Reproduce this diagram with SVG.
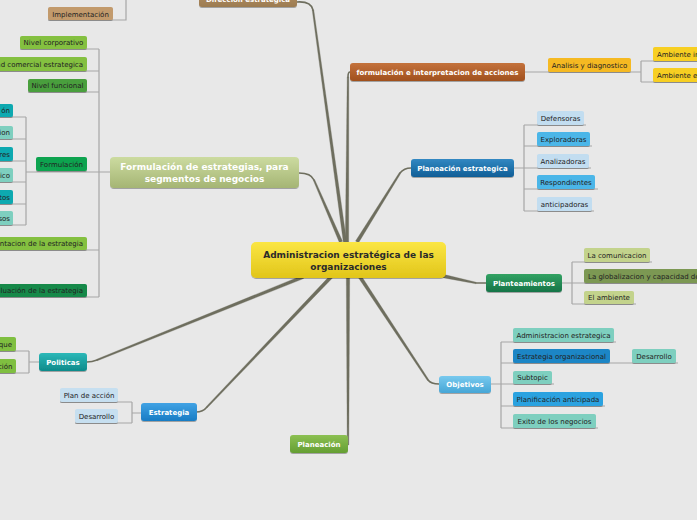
<svg xmlns="http://www.w3.org/2000/svg" width="697" height="520" viewBox="0 0 697 520">
<defs>
<linearGradient id="gY" x1="0" y1="0" x2="0" y2="1"><stop offset="0" stop-color="#fbe643"/><stop offset="1" stop-color="#e1c51a"/></linearGradient>
<linearGradient id="gBr" x1="0" y1="0" x2="0" y2="1"><stop offset="0" stop-color="#b6946a"/><stop offset="1" stop-color="#9c7b50"/></linearGradient>
<linearGradient id="gOr" x1="0" y1="0" x2="0" y2="1"><stop offset="0" stop-color="#c4723c"/><stop offset="1" stop-color="#a0501e"/></linearGradient>
<linearGradient id="gBd" x1="0" y1="0" x2="0" y2="1"><stop offset="0" stop-color="#3288c2"/><stop offset="1" stop-color="#0f5e96"/></linearGradient>
<linearGradient id="gGd" x1="0" y1="0" x2="0" y2="1"><stop offset="0" stop-color="#32a263"/><stop offset="1" stop-color="#167447"/></linearGradient>
<linearGradient id="gBl" x1="0" y1="0" x2="0" y2="1"><stop offset="0" stop-color="#78c9ee"/><stop offset="1" stop-color="#46a6d6"/></linearGradient>
<linearGradient id="gGl" x1="0" y1="0" x2="0" y2="1"><stop offset="0" stop-color="#8cc052"/><stop offset="1" stop-color="#649e32"/></linearGradient>
<linearGradient id="gBm" x1="0" y1="0" x2="0" y2="1"><stop offset="0" stop-color="#40a2e4"/><stop offset="1" stop-color="#187cc4"/></linearGradient>
<linearGradient id="gT" x1="0" y1="0" x2="0" y2="1"><stop offset="0" stop-color="#2cb8b8"/><stop offset="1" stop-color="#0d8a8a"/></linearGradient>
<linearGradient id="gOl" x1="0" y1="0" x2="0" y2="1"><stop offset="0" stop-color="#ccdba0"/><stop offset="1" stop-color="#a5b574"/></linearGradient>
<filter id="sh" x="-10%" y="-20%" width="120%" height="160%"><feDropShadow dx="0" dy="1" stdDeviation="0.7" flood-color="#000" flood-opacity="0.3"/></filter>
</defs>
<style>
.t{font-family:"DejaVu Sans",Verdana,sans-serif;font-size:7px;fill:#222}
.b{font-family:"DejaVu Sans",Verdana,sans-serif;font-size:7px;font-weight:bold;fill:#fff}
.c{font-family:"DejaVu Sans",Verdana,sans-serif;font-size:9px;font-weight:bold}
.mid{text-anchor:middle}
.end{text-anchor:end}
.m{fill:none;stroke:#6e6e5e;stroke-width:1.6;stroke-linecap:round}
.tp{fill:#6e6e5e;stroke:#6e6e5e;stroke-width:0.3}
.s{fill:none;stroke:#a6a6a6;stroke-width:1.2}
.n rect{filter:url(#sh)}
</style>
<rect width="697" height="520" fill="#e8e8e8"/>
<g id="connectors">
<path class="m" d="M297,2 Q311,1 313,10"/>
<polygon class="tp" points="346.68,241.77 313.79,9.89 312.21,10.11 343.32,242.23"/>
<path class="m" d="M350,72 Q348,72 348,77"/>
<polygon class="tp" points="348.7,242 348.8,77 347.2,77 345.3,242"/>
<path class="m" d="M411,168 Q404,168 400,173"/>
<polygon class="tp" points="358.44,242.9 400.68,173.42 399.32,172.58 355.56,241.1"/>
<path class="m" d="M486,283 L476,283"/>
<polygon class="tp" points="442.65,277.66 475.83,283.78 476.17,282.22 443.35,274.34"/>
<path class="m" d="M439,384 Q431,384 428,380"/>
<polygon class="tp" points="358.58,277.94 427.33,380.44 428.67,379.56 361.42,276.06"/>
<polygon class="tp" points="349.7,277 348.8,445 347.2,445 346.3,277"/>
<path class="m" d="M196,412 Q203,412 207,407"/>
<polygon class="tp" points="329.77,275.83 206.42,406.45 207.58,407.55 332.23,278.17"/>
<path class="m" d="M87,362 Q92,362 97,360"/>
<polygon class="tp" points="302.36,275.42 96.7,359.26 97.3,360.74 303.64,278.58"/>
<path class="m" d="M299,173 Q311,173 314,180"/>
<polygon class="tp" points="342.56,241.32 314.73,179.68 313.27,180.32 339.44,242.68"/>
<path class="s" d="M126,0 V20 H48"/>
<path class="s" d="M110,172 H26 M99,49 V297 M20,49 H99 M0,71 H99 M28,92 H99 M0,250 H99 M0,297 H99"/>
<path class="s" d="M26,117 V225 M0,117 H26 M0,139 H26 M0,161 H26 M0,182 H26 M0,204 H26 M0,225 H26"/>
<path class="s" d="M525,72 H641 M641,61 V82 M641,61 H697 M641,82 H697"/>
<path class="s" d="M514,168 H524 M524,125 V211 M524,125 H586 M524,146 H592 M524,168 H591 M524,189 H598 M524,211 H594"/>
<path class="s" d="M562,283 H572 M572,262 V304 M572,262 H652 M572,283 H697 M572,304 H636"/>
<path class="s" d="M491,384 H501 M501,342 V428 M501,342 H616 M501,363 H678 M501,384 H554 M501,406 H605 M501,428 H598"/>
<path class="s" d="M141,413 H132 M132,402 V423 M132,402 H60 M132,423 H75"/>
<path class="s" d="M39,362 H29 M29,351 V373 M29,351 H0 M29,373 H0"/>
</g>
<g id="central" class="n"><rect x="251" y="242" width="195" height="36" rx="5" fill="url(#gY)"/>
<text class="c mid" x="348.5" y="258" fill="#2a2a2a">Administracion estratégica de las</text>
<text class="c mid" x="348.5" y="270" fill="#2a2a2a">organizaciones</text></g>
<g id="direccion" class="n"><rect x="199" y="-12" width="98" height="19" rx="3" fill="url(#gBr)"/><text class="b mid" x="248" y="2">Dirección estrategica</text></g>
<g id="implementacion" class="n"><rect x="48" y="7" width="65" height="13" rx="2" fill="#c29a6c"/><text class="t mid" x="80.5" y="16.5">Implementación</text></g>
<g id="formulacion-interp" class="n"><rect x="350" y="63" width="175" height="18" rx="3" fill="url(#gOr)"/><text class="b mid" x="437.5" y="74.5">formulación e interpretacion de acciones</text></g>
<g id="analisis" class="n"><rect x="548" y="58" width="83" height="14" rx="2" fill="#f5b920"/><text class="t mid" x="589.5" y="67.5">Analisis y diagnostico</text></g>
<g id="amb-int" class="n"><rect x="653" y="47" width="60" height="14" rx="2" fill="#f7cf22"/><text class="t" x="657" y="56.5">Ambiente interno</text></g>
<g id="amb-ext" class="n"><rect x="653" y="68" width="60" height="14" rx="2" fill="#f7cf22"/><text class="t" x="657" y="77.5">Ambiente externo</text></g>
<g id="planeacion-estr" class="n"><rect x="411" y="159" width="103" height="18" rx="3" fill="url(#gBd)"/><text class="b mid" x="462.5" y="170.5">Planeación estrategica</text></g>
<g id="defensoras" class="n"><rect x="537" y="111" width="47" height="14" rx="2" fill="#c2ddf0"/><text class="t mid" x="560.5" y="120.5">Defensoras</text></g>
<g id="exploradoras" class="n"><rect x="537" y="132" width="53" height="14" rx="2" fill="#4cb6e8"/><text class="t mid" x="563.5" y="141.5">Exploradoras</text></g>
<g id="analizadoras" class="n"><rect x="537" y="154" width="52" height="14" rx="2" fill="#c2ddf0"/><text class="t mid" x="563" y="163.5">Analizadoras</text></g>
<g id="respondientes" class="n"><rect x="537" y="175" width="58" height="14" rx="2" fill="#4cb6e8"/><text class="t mid" x="566" y="184.5">Respondientes</text></g>
<g id="anticipadoras" class="n"><rect x="537" y="197" width="55" height="14" rx="2" fill="#c2ddf0"/><text class="t mid" x="564.5" y="206.5">anticipadoras</text></g>
<g id="planteamientos" class="n"><rect x="486" y="274" width="76" height="18" rx="3" fill="url(#gGd)"/><text class="b mid" x="524" y="285.5">Planteamientos</text></g>
<g id="comunicacion" class="n"><rect x="584" y="248" width="66" height="14" rx="2" fill="#c3d38c"/><text class="t mid" x="617" y="257.5">La comunicacion</text></g>
<g id="globalizacion" class="n"><rect x="584" y="269" width="130" height="14" rx="2" fill="#7c9852"/><text class="t" x="588" y="278.5">La globalizacion y capacidad de</text></g>
<g id="ambiente" class="n"><rect x="584" y="291" width="50" height="13" rx="2" fill="#c3d38c"/><text class="t mid" x="609" y="300">El ambiente</text></g>
<g id="objetivos" class="n"><rect x="439" y="376" width="52" height="17" rx="3" fill="url(#gBl)"/><text class="b mid" x="465" y="387">Objetivos</text></g>
<g id="admin-estr" class="n"><rect x="513" y="328" width="101" height="14" rx="2" fill="#7ecfbf"/><text class="t mid" x="563.5" y="337.5">Administracion estrategica</text></g>
<g id="estr-org" class="n"><rect x="513" y="349" width="97" height="14" rx="2" fill="#1f86c6"/><text class="t mid" x="561.5" y="358.5">Estrategia organizacional</text></g>
<g id="desarrollo-obj" class="n"><rect x="632" y="349" width="44" height="14" rx="2" fill="#7ecfbf"/><text class="t mid" x="654" y="358.5">Desarrollo</text></g>
<g id="subtopic" class="n"><rect x="513" y="371" width="39" height="13" rx="2" fill="#7ecfbf"/><text class="t mid" x="532.5" y="380">Subtopic</text></g>
<g id="planif" class="n"><rect x="513" y="392" width="90" height="14" rx="2" fill="#2ba2e0"/><text class="t mid" x="558" y="401.5">Planificación anticipada</text></g>
<g id="exito" class="n"><rect x="513" y="414" width="83" height="14" rx="2" fill="#7ecfbf"/><text class="t mid" x="554.5" y="423.5">Exito de los negocios</text></g>
<g id="planeacion" class="n"><rect x="290" y="435" width="58" height="18" rx="3" fill="url(#gGl)"/><text class="b mid" x="319" y="446.5">Planeación</text></g>
<g id="estrategia" class="n"><rect x="141" y="403" width="56" height="18" rx="3" fill="url(#gBm)"/><text class="b mid" x="169" y="414.5">Estrategia</text></g>
<g id="plan-accion" class="n"><rect x="60" y="388" width="58" height="14" rx="2" fill="#c6dff0"/><text class="t mid" x="89" y="397.5">Plan de acción</text></g>
<g id="desarrollo-estr" class="n"><rect x="75" y="409" width="43" height="14" rx="2" fill="#c6dff0"/><text class="t mid" x="96.5" y="418.5">Desarrollo</text></g>
<g id="politicas" class="n"><rect x="39" y="353" width="48" height="18" rx="3" fill="url(#gT)"/><text class="b mid" x="63" y="364.5">Politicas</text></g>
<g id="pol-1" class="n"><rect x="-20" y="337" width="36" height="14" rx="2" fill="#7fbf3f"/><text class="t end" x="12" y="346.5">que</text></g>
<g id="pol-2" class="n"><rect x="-20" y="359" width="36" height="14" rx="2" fill="#7fbf3f"/><text class="t end" x="12.5" y="368.5">ción</text></g>
<g id="formulacion-estr" class="n"><rect x="110" y="157" width="189" height="31" rx="4" fill="url(#gOl)"/>
<text class="c mid" x="204.5" y="170" fill="#fff">Formulación de estrategias, para</text>
<text class="c mid" x="204.5" y="182" fill="#fff">segmentos de negocios</text></g>
<g id="nivel-corp" class="n"><rect x="20" y="36" width="67" height="13" rx="2" fill="#84c041"/><text class="t mid" x="53.5" y="45">Nivel corporativo</text></g>
<g id="unidad" class="n"><rect x="-40" y="57" width="127" height="14" rx="2" fill="#84c041"/><text class="t end" x="83" y="66.5">Unidad comercial estrategica</text></g>
<g id="nivel-func" class="n"><rect x="28" y="79" width="59" height="13" rx="2" fill="#4a9f3e"/><text class="t mid" x="57.5" y="88">Nivel funcional</text></g>
<g id="formulacion" class="n"><rect x="36" y="157" width="51" height="14" rx="2" fill="#0fa34f"/><text class="t mid" x="61.5" y="166.5">Formulación</text></g>
<g id="f1" class="n"><rect x="-30" y="104" width="43" height="13" rx="2" fill="#0ea9b0"/><text class="t end" x="10" y="113">ón</text></g>
<g id="f2" class="n"><rect x="-30" y="126" width="43" height="13" rx="2" fill="#7ecfbf"/><text class="t end" x="10" y="135">ion</text></g>
<g id="f3" class="n"><rect x="-30" y="147" width="43" height="14" rx="2" fill="#0ea9b0"/><text class="t end" x="10" y="156.5">res</text></g>
<g id="f4" class="n"><rect x="-30" y="168" width="43" height="14" rx="2" fill="#7ecfbf"/><text class="t end" x="10" y="177.5">ico</text></g>
<g id="f5" class="n"><rect x="-30" y="190" width="43" height="14" rx="2" fill="#0ea9b0"/><text class="t end" x="10" y="199.5">tos</text></g>
<g id="f6" class="n"><rect x="-30" y="211" width="43" height="14" rx="2" fill="#7ecfbf"/><text class="t end" x="10" y="220.5">sos</text></g>
<g id="implementacion-estr" class="n"><rect x="-60" y="237" width="147" height="13" rx="2" fill="#84c041"/><text class="t end" x="83" y="246">Implementacion de la estrategia</text></g>
<g id="evaluacion" class="n"><rect x="-60" y="284" width="147" height="13" rx="2" fill="#13894a"/><text class="t end" x="83" y="293">Evaluación de la estrategia</text></g>
</svg>
